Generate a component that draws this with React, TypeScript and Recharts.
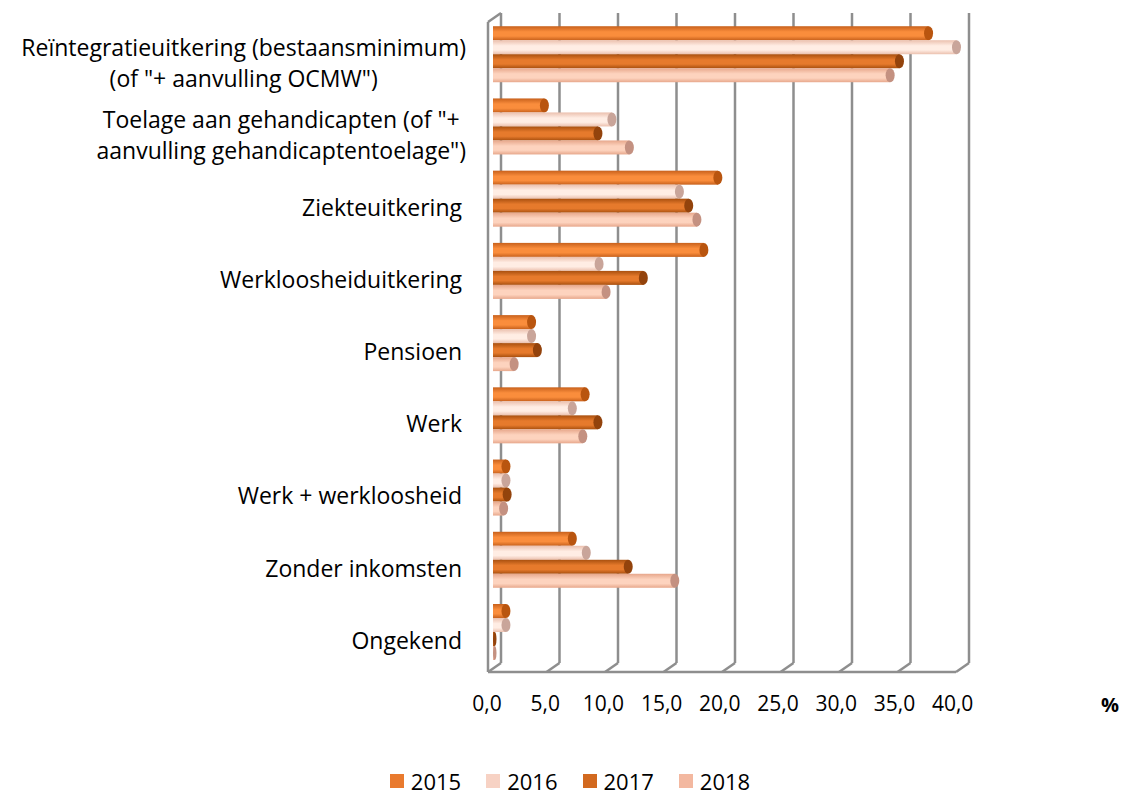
import { BarChart, Bar, XAxis, YAxis, Legend, Customized } from 'recharts';

// categories (line breaks = label wraps)
const categories = [
  'Reïntegratieuitkering (bestaansminimum)\n(of "+ aanvulling OCMW")',
  'Toelage aan gehandicapten (of "+\naanvulling gehandicaptentoelage")',
  'Ziekteuitkering',
  'Werkloosheiduitkering',
  'Pensioen',
  'Werk',
  'Werk + werkloosheid',
  'Zonder inkomsten',
  'Ongekend',
];

const years = ['2015', '2016', '2017', '2018'];

const values2015 = [37.8, 4.8, 19.7, 18.5, 3.7, 8.3, 1.5, 7.2, 1.5];
const values2016 = [40.2, 10.6, 16.4, 9.5, 3.7, 7.2, 1.5, 8.4, 1.5];
const values2017 = [35.3, 9.4, 17.2, 13.3, 4.2, 9.4, 1.6, 12.0, 0.3];
const values2018 = [34.5, 12.1, 17.9, 10.1, 2.2, 8.1, 1.3, 16.0, 0.3];

const xTicks = [0, 5, 10, 15, 20, 25, 30, 35, 40];

const data = categories.map((name, i) => ({
  name,
  y2015: values2015[i],
  y2016: values2016[i],
  y2017: values2017[i],
  y2018: values2018[i],
}));

// legend colours + cylinder shading per year
const SERIES = {
  '2015': { legend: '#E97A2E', edge: '#C8611C', mid: '#FA8D3C', cap: '#B9550F' },
  '2016': { legend: '#F7D2C4', edge: '#EBC0AE', mid: '#FFEDE4', cap: '#C9A59A' },
  '2017': { legend: '#D2691F', edge: '#A9500F', mid: '#E67A2C', cap: '#93430C' },
  '2018': { legend: '#F3B8A0', edge: '#E7A78B', mid: '#FDD3BE', cap: '#C49181' },
};

const W = 1121;
const H = 798;
const FONT = '"Open Sans", sans-serif';
const GRID = '#8E8E8E';

const PLOT_LEFT = 493;
const PLOT_RIGHT = 961;
const PLOT_TOP = 19;
const PLOT_BOTTOM = 669;
const X_MAX = 40;
const DEPTH_X = 13;
const DEPTH_Y = 9;

const xPos = (v: number) => PLOT_LEFT + (v / X_MAX) * (PLOT_RIGHT - PLOT_LEFT);

let measureCtx: CanvasRenderingContext2D | null = null;
function textWidth(s: string, font: string) {
  if (!measureCtx) measureCtx = document.createElement('canvas').getContext('2d');
  if (!measureCtx) return s.length * 11;
  measureCtx.font = font;
  return measureCtx.measureText(s).width;
}

function CategoryTick({ x, y, payload }: any) {
  const lines = String(payload.value).split('\n');
  const right = x - 29;
  const lh = 31;
  if (lines.length === 1) {
    return (
      <text x={right} y={y + 7} textAnchor="end" dominantBaseline="central" fontSize={23} fontFamily={FONT} fill="#000">
        {lines[0]}
      </text>
    );
  }
  const maxW = Math.max(...lines.map((l) => textWidth(l, `23px ${FONT}`)));
  const cx = right - maxW / 2 + 4;
  const y0 = y + 7 - ((lines.length - 1) * lh) / 2;
  return (
    <g>
      {lines.map((l, i) => (
        <text key={i} x={cx} y={y0 + i * lh} textAnchor="middle" dominantBaseline="central" fontSize={23} fontFamily={FONT} fill="#000">
          {l}
        </text>
      ))}
    </g>
  );
}

function Cylinder({ x, y, width, height, year }: any) {
  if (!width || width <= 0) return null;
  const rx = Math.min(4.5, width / 2);
  const ry = height / 2;
  return (
    <g>
      <rect x={x} y={y} width={Math.max(width - rx, 0)} height={height} fill={`url(#cyl${year})`} />
      <ellipse cx={x + width - rx} cy={y + ry} rx={rx} ry={ry} fill={SERIES[year].cap} />
    </g>
  );
}

function Frame() {
  const backTop = PLOT_TOP - 6;
  const backBottom = PLOT_BOTTOM - 6;
  const frontBottom = backBottom + DEPTH_Y;
  const gx = (v: number) => xPos(v) + 8;
  return (
    <g>
      <defs>
        {years.map((yr) => (
          <linearGradient key={yr} id={`cyl${yr}`} x1="0" y1="0" x2="0" y2="1">
            <stop offset="0%" stopColor={SERIES[yr].edge} />
            <stop offset="40%" stopColor={SERIES[yr].mid} />
            <stop offset="70%" stopColor={SERIES[yr].mid} />
            <stop offset="100%" stopColor={SERIES[yr].edge} />
          </linearGradient>
        ))}
      </defs>
      {xTicks.map((v) => (
        <g key={v}>
          <line x1={gx(v)} y1={backTop} x2={gx(v)} y2={backBottom} stroke={GRID} strokeWidth={2.5} />
          <line x1={gx(v)} y1={backBottom} x2={gx(v) - DEPTH_X} y2={frontBottom} stroke={GRID} strokeWidth={2.5} />
        </g>
      ))}
      <line x1={gx(0) - DEPTH_X} y1={backTop + DEPTH_Y} x2={gx(0) - DEPTH_X} y2={frontBottom} stroke={GRID} strokeWidth={2.5} />
      <line x1={gx(0) - DEPTH_X} y1={backTop + DEPTH_Y} x2={gx(0)} y2={backTop} stroke={GRID} strokeWidth={2.5} />
      <line x1={gx(0) - DEPTH_X} y1={frontBottom} x2={gx(X_MAX) - DEPTH_X} y2={frontBottom} stroke={GRID} strokeWidth={2.5} />
    </g>
  );
}

function LegendContent() {
  return (
    <div style={{ display: 'flex', justifyContent: 'center', gap: 25, fontFamily: FONT, fontSize: 22, lineHeight: '22px', height: 22, color: '#000' }}>
      {years.map((yr) => (
        <div key={yr} style={{ display: 'flex', alignItems: 'center' }}>
          <span style={{ display: 'inline-block', width: 14, height: 14, background: SERIES[yr].legend, marginRight: 7 }} />
          <span>{yr}</span>
        </div>
      ))}
    </div>
  );
}

export default function App() {
  return (
    <div style={{ position: 'absolute', left: 0, top: 0, width: W, height: H, background: '#fff', overflow: 'hidden' }}>
      <BarChart
        width={W}
        height={H}
        data={data}
        layout="vertical"
        margin={{ top: PLOT_TOP, right: W - PLOT_RIGHT, left: 0, bottom: H - PLOT_BOTTOM - 60 }}
        barCategoryGap="10%"
        barGap={0}
      >
        <Customized component={<Frame />} />
        <XAxis
          type="number"
          domain={[0, X_MAX]}
          ticks={xTicks}
          tickFormatter={(v: number) => v.toFixed(1).replace('.', ',')}
          axisLine={false}
          tickLine={false}
          tickSize={0}
          tickMargin={27}
          height={60}
          tick={{ fill: '#000', fontSize: 21, fontFamily: FONT, dx: -6 }}
          label={{ value: '%', position: 'right', offset: 140, dy: 6, fill: '#000', fontSize: 20, fontWeight: 'bold', fontFamily: FONT }}
        />
        <YAxis
          type="category"
          dataKey="name"
          width={PLOT_LEFT}
          axisLine={false}
          tickLine={false}
          tickSize={0}
          tick={<CategoryTick />}
          interval={0}
        />
        <Legend
          verticalAlign="middle"
          align="center"
          content={<LegendContent />}
          wrapperStyle={{ top: 770, left: 20, width: 1100 }}
        />
        {years.map((yr) => (
          <Bar
            key={yr}
            dataKey={`y${yr}`}
            name={yr}
            fill={SERIES[yr].legend}
            isAnimationActive={false}
            shape={(props: any) => <Cylinder {...props} year={yr} />}
          />
        ))}
      </BarChart>
    </div>
  );
}
